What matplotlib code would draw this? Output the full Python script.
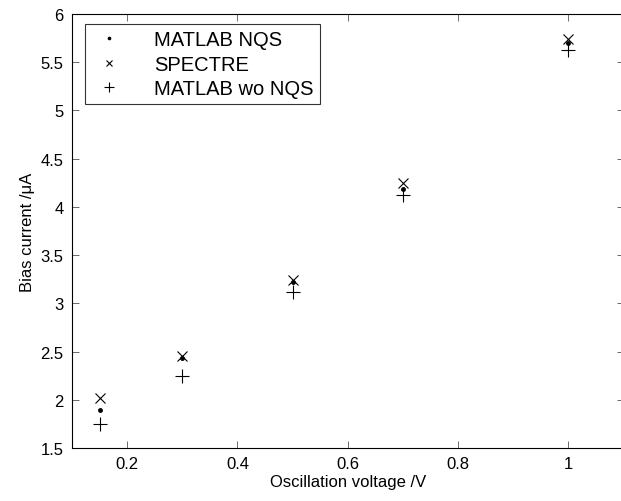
import matplotlib
matplotlib.use("Agg")
import matplotlib.pyplot as plt
from matplotlib.ticker import FuncFormatter

plt.rcParams['font.family'] = ['Liberation Sans', 'DejaVu Sans']

# bias current vs oscillation amplitude
osc_v = [0.15, 0.3, 0.5, 0.7, 1.0]
nqs = [1.89, 2.43, 3.22, 4.19, 5.70]
spectre = [2.02, 2.45, 3.24, 4.25, 5.74]
wo_nqs = [1.75, 2.25, 3.12, 4.12, 5.63]

x_ticks = [0.2, 0.4, 0.6, 0.8, 1.0]
y_ticks = [1.5, 2, 2.5, 3, 3.5, 4, 4.5, 5, 5.5, 6]

fig = plt.figure(figsize=(6.21, 5.02), dpi=100)
# right edge of the axes falls just past the figure border
ax = fig.add_axes([72 / 621, 53 / 502, 551.5 / 621, 434 / 502])

ax.plot(osc_v, nqs, ls='none', marker='.', ms=5, color='k', label='MATLAB NQS')
ax.plot(osc_v, spectre, ls='none', marker='x', ms=6.5, mew=0.8, color='k', label='SPECTRE')
ax.plot(osc_v, wo_nqs, ls='none', marker='+', ms=10, mew=0.8, color='k', label='MATLAB wo NQS')

ax.set_xlim(0.1, 1.1)
ax.set_ylim(1.5, 6)
ax.set_xticks(x_ticks)
ax.set_yticks(y_ticks)
fmt = FuncFormatter(lambda v, p: '%g' % v)
ax.xaxis.set_major_formatter(fmt)
ax.yaxis.set_major_formatter(fmt)
ax.tick_params(direction='in', length=5, width=0.6, top=True, right=True,
               labelsize=12, color='#555555', pad=6)
for s in ax.spines.values():
    s.set_linewidth(0.8)

ax.set_xlabel('Oscillation voltage /V', fontsize=12, labelpad=2)
ax.set_ylabel('Bias current /\u03bcA', fontsize=12, labelpad=4)

leg = ax.legend(loc='upper left', bbox_to_anchor=(13 / 551.5, 1 - 10 / 434),
                fontsize=14.5, frameon=True, fancybox=False, edgecolor='k',
                borderaxespad=0, handletextpad=1.35, labelspacing=0.28,
                borderpad=0.3, handlelength=1.8, markerscale=0.65)
leg.get_frame().set_linewidth(0.8)

fig.savefig('out.png', dpi=100)
